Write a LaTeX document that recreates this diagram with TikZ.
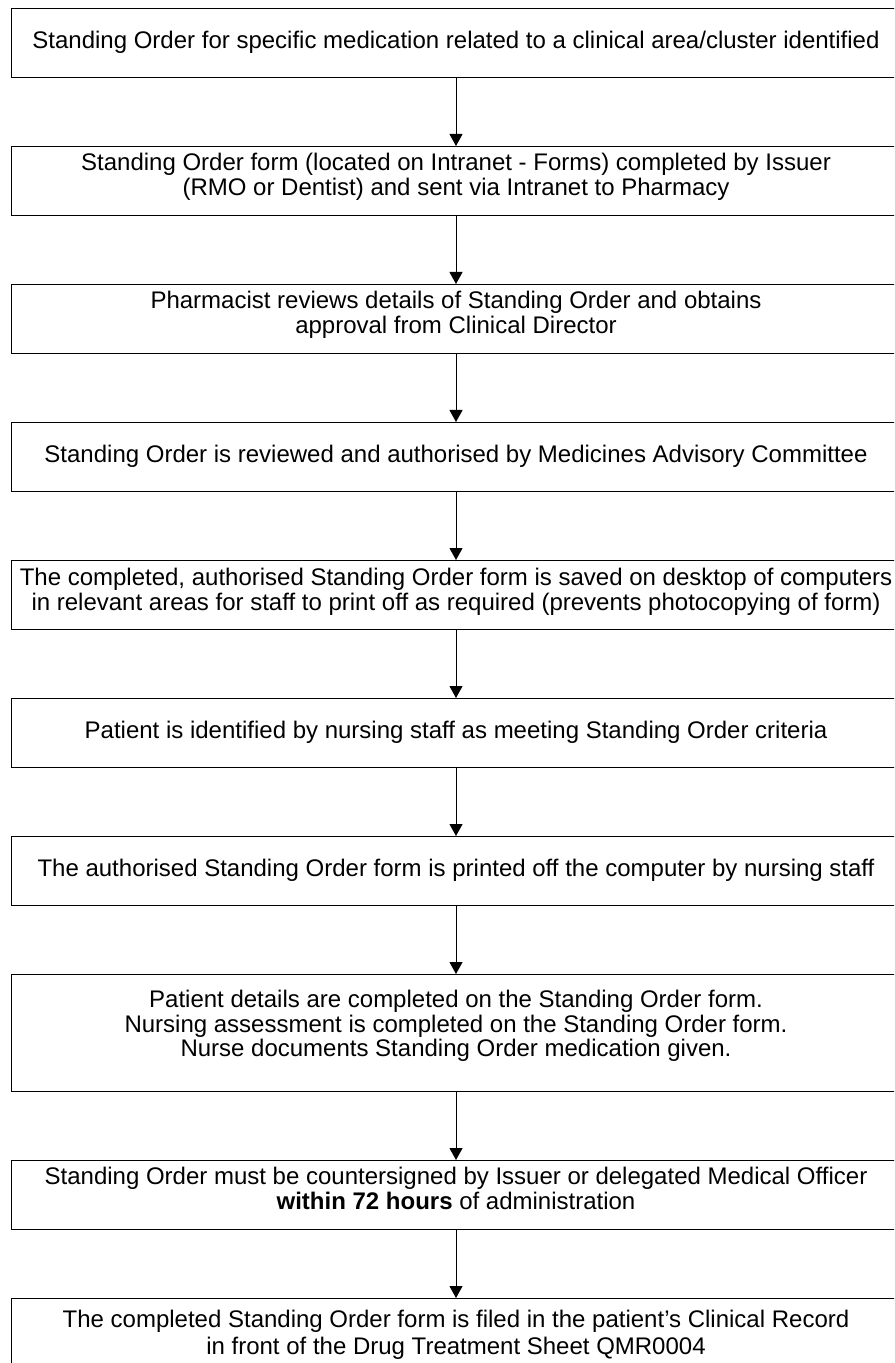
\documentclass[tikz,border=0pt]{standalone}
\usepackage{fontspec}
\setmainfont{Liberation Sans}
\usetikzlibrary{arrows.meta}
\usetikzlibrary{positioning}
\tikzset{
    block/.style={
           rectangle,
           draw=black, line width=0.5pt,
           minimum width=445pt,
           minimum height=34.5pt,
           inner xsep=0pt,
           inner ysep=0pt,
           text centered,
           font=\fontsize{12pt}{12.25pt}\selectfont,
           },
    tallblock/.style={
           block,
           minimum height=58.5pt,
           },
    flow/.style={
           -{Triangle[width=6.5pt,length=6pt]},
           line width=0.5pt,
           },
}

\begin{document}
\begin{tikzpicture}[auto, node distance=34pt]
	\useasboundingbox (0,0) rectangle (447pt,-681.5pt);
	\clip (0,0) rectangle (447pt,-681.5pt);

	\node[block, anchor=north] (identify) at (228pt,-4pt) {
		\begin{tabular}{@{}c@{}}
		Standing Order for specific medication related to a clinical area/cluster identified
		\end{tabular}
	};

	\node[block, below=of identify] (form) {
		\begin{tabular}{@{}c@{}}
		Standing Order form (located on Intranet - Forms) completed by Issuer\\
		(RMO or Dentist) and sent via Intranet to Pharmacy\\[3pt]
		\end{tabular}
	};

	\node[block, below=of form] (review) {
		\begin{tabular}{@{}c@{}}
		Pharmacist reviews details of Standing Order and obtains\\
		approval from Clinical Director\\[3pt]
		\end{tabular}
	};

	\node[block, below=of review] (authorise) {
		\begin{tabular}{@{}c@{}}
		Standing Order is reviewed and authorised by Medicines Advisory Committee
		\end{tabular}
	};

	\node[block, below=of authorise] (save) {
		\begin{tabular}{@{}c@{}}
		The completed, authorised Standing Order form is saved on desktop of computers\\
		in relevant areas for staff to print off as required (prevents photocopying of form)\\[2pt]
		\end{tabular}
	};

	\node[block, below=of save] (patient) {
		\begin{tabular}{@{}c@{}}
		Patient is identified by nursing staff as meeting Standing Order criteria
		\end{tabular}
	};

	\node[block, below=of patient] (print) {
		\begin{tabular}{@{}c@{}}
		The authorised Standing Order form is printed off the computer by nursing staff
		\end{tabular}
	};

	\node[tallblock, below=of print] (details) {
		\begin{tabular}{@{}c@{}}
		Patient details are completed on the Standing Order form.\\
		Nursing assessment is completed on the Standing Order form.\\
		Nurse documents Standing Order medication given.\\[6pt]
		\end{tabular}
	};

	\node[block, below=of details] (countersign) {
		\begin{tabular}{@{}c@{}}
		Standing Order must be countersigned by Issuer or delegated Medical Officer\\
		\textbf{within 72 hours} of administration\\[3pt]
		\end{tabular}
	};

	\node[block, below=of countersign] (file) {
		\begin{tabular}{@{}c@{}}
		The completed Standing Order form is filed in the patient's Clinical Record\\[1pt]
		in front of the Drug Treatment Sheet QMR0004\\[-3pt]
		\end{tabular}
	};

	\path[flow]	(identify) edge (form)
				(form) edge (review)
				(review) edge (authorise)
				(authorise) edge (save)
				(save) edge (patient)
				(patient) edge (print)
				(print) edge (details)
				(details) edge (countersign)
				(countersign) edge (file);

\end{tikzpicture}
\end{document}
